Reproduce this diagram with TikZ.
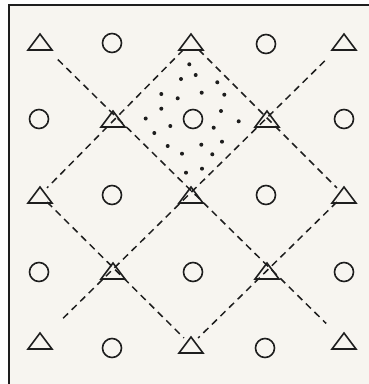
\documentclass[tikz,border=0pt]{standalone}
\usetikzlibrary{calc}
\definecolor{paper}{HTML}{F7F5F0}
\definecolor{ink}{HTML}{1E1E1E}
\tikzset{
  shapeline/.style={draw=ink, line width=1.6pt},
  circ/.style={circle, draw=ink, line width=1.6pt, minimum size=19pt, inner sep=0pt},
  dashline/.style={draw=ink, line width=1.5pt, dash pattern=on 7pt off 5pt},
  dotmark/.style={fill=ink},
}
\newcommand{\tri}[3]{\coordinate (#1) at (#2,#3);
  \draw[shapeline, line join=miter] ($(#1)+(-12,8)$) -- ++(24,0) -- ++(-12,-16) -- cycle;}
\begin{document}
\begin{tikzpicture}[x=1pt,y=-1pt]
\useasboundingbox (0,0) rectangle (369,384);
\fill[white] (0,0) rectangle (369,384);
\fill[paper] (9,5) rectangle (372,388);
\draw[ink, line width=2.2pt] (9,5) -- (9,390);
\draw[ink, line width=2.2pt] (8,5) -- (372,5);
% triangles
\tri{t00}{40}{42}
\tri{t20}{191}{42}
\tri{t40}{344}{42}
\tri{t11}{113}{119}
\tri{t31}{267}{119}
\tri{t02}{40}{195}
\tri{t22}{191}{195}
\tri{t42}{344}{195}
\tri{t13}{113}{271}
\tri{t33}{267}{271}
\tri{t04}{40}{341}
\tri{t24}{191}{345}
\tri{t44}{344}{341}
% circles
\node[circ] (c10) at (112,43) {};
\node[circ] (c30) at (266,44) {};
\node[circ] (c01) at (39,119) {};
\node[circ] (c21) at (193,119) {};
\node[circ] (c41) at (344,119) {};
\node[circ] (c12) at (112,195) {};
\node[circ] (c32) at (266,195) {};
\node[circ] (c03) at (39,272) {};
\node[circ] (c23) at (193,272) {};
\node[circ] (c43) at (344,272) {};
\node[circ] (c14) at (112,348) {};
\node[circ] (c34) at (265,348) {};
% diagonals
\draw[dashline, shorten <=25pt, shorten >=25pt] (t00) -- (t44);
\draw[dashline, shorten <=27pt, shorten >=28pt] (t40) -- (t04);
% diamond
\draw[dashline, shorten <=11pt, shorten >=10pt] (t20) -- (t02);
\draw[dashline, shorten <=11pt, shorten >=10pt] (t20) -- (t42);
\draw[dashline, shorten <=10pt, shorten >=10pt] (t02) -- (t24);
\draw[dashline, shorten <=10pt, shorten >=10pt] (t42) -- (t24);
% dots
\foreach \x/\y in {189.3/64.3, 195.7/75, 181/79, 217.3/82.3, 161.3/94, 177.7/98.3,
  201.7/92.7, 224.3/94.7, 161.3/108.7, 221/111, 145.7/118.5, 170.3/126,
  213.7/127.7, 238.7/121.3, 154.3/133, 167.7/146, 201.3/144.7, 222/141.7,
  182/153.7, 212.3/154.3, 202/168.7, 186/172.7}
  \fill[dotmark] (\x,\y) circle (2pt);
\end{tikzpicture}
\end{document}
